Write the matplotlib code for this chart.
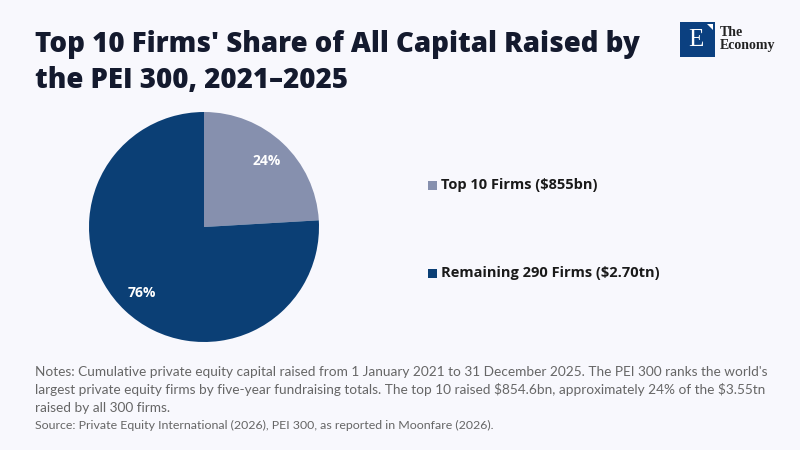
import matplotlib.pyplot as plt
from matplotlib.patches import Rectangle, Polygon

# data
labels = ["Top 10 Firms ($855bn)", "Remaining 290 Firms ($2.70tn)"]
values = [854.6, 2695.4]
colors = ["#8690AE", "#0B3F75"]

title_lines = ["Top 10 Firms' Share of All Capital Raised by", "the PEI 300, 2021\u20132025"]
note_lines = [
    "Notes: Cumulative private equity capital raised from 1 January 2021 to 31 December 2025. The PEI 300 ranks the world's",
    "largest private equity firms by five-year fundraising totals. The top 10 raised $854.6bn, approximately 24% of the $3.55tn",
    "raised by all 300 firms.",
]
source = "Source: Private Equity International (2026), PEI 300, as reported in Moonfare (2026)."

bg = "#F8F8FD"
plt.rcParams['font.family'] = ['Lato', 'DejaVu Sans']
plt.rcParams['text.parse_math'] = False

fig = plt.figure(figsize=(8, 4.5), dpi=100, facecolor=bg)

# title
for i, line in enumerate(title_lines):
    fig.text(35 / 800, 1 - (52 + i * 36) / 450, line, fontsize=19.9, fontweight='heavy',
             family=['Open Sans', 'DejaVu Sans'], color="#141A2E", va='baseline', ha='left')

# pie
cx, cy, r = 204, 227, 115
ax = fig.add_axes([(cx - r) / 800, 1 - (cy + r) / 450, 2 * r / 800, 2 * r / 450])
ax.set_facecolor(bg)
wedges, texts, autotexts = ax.pie(values, colors=colors, startangle=90, counterclock=False,
                                  autopct='%1.0f%%', pctdistance=0.79,
                                  textprops=dict(color='white', fontsize=10, fontweight='bold',
                                                 family=['Open Sans', 'DejaVu Sans']))
ax.set_xlim(-1, 1)
ax.set_ylim(-1, 1)
ax.set_aspect('auto')

# legend
for i, (lab, col) in enumerate(zip(labels, colors)):
    y = 185 + i * 88
    fig.patches.append(Rectangle((428 / 800, 1 - (y + 4.5) / 450), 9 / 800, 9 / 450,
                                 transform=fig.transFigure, facecolor=col, edgecolor='none'))
    fig.text(441 / 800, 1 - y / 450, lab, fontsize=10.5, fontweight='bold', color="#1A1A1A",
             family=['Open Sans', 'DejaVu Sans'], va='center', ha='left')

# notes
for i, line in enumerate(note_lines):
    fig.text(35 / 800, 1 - (372 + i * 18) / 450, line, fontsize=9.8, color="#666666",
             va='center', ha='left')
fig.text(35 / 800, 1 - 425 / 450, source, fontsize=8.9, color="#666666", va='center', ha='left')

# logo
fig.patches.append(Rectangle((680 / 800, 1 - 57 / 450), 35 / 800, 35 / 450,
                             transform=fig.transFigure, facecolor="#0B4080", edgecolor='none'))
fig.patches.append(Polygon([(707 / 800, 1 - 24 / 450), (713 / 800, 1 - 24 / 450), (713 / 800, 1 - 30 / 450)],
                           closed=True, transform=fig.transFigure, facecolor='white', edgecolor='none'))
fig.text(696 / 800, 1 - 40 / 450, "E", fontsize=18, color='white', family='Liberation Serif',
         ha='center', va='center')
fig.text(720 / 800, 1 - 33 / 450, "The", fontsize=10, color="#222222", family='Liberation Serif',
         ha='left', va='center', fontweight='bold')
fig.text(720 / 800, 1 - 45 / 450, "Economy", fontsize=10, color="#222222", family='Liberation Serif',
         ha='left', va='center', fontweight='bold')

fig.savefig("out.png", dpi=100, facecolor=bg)
